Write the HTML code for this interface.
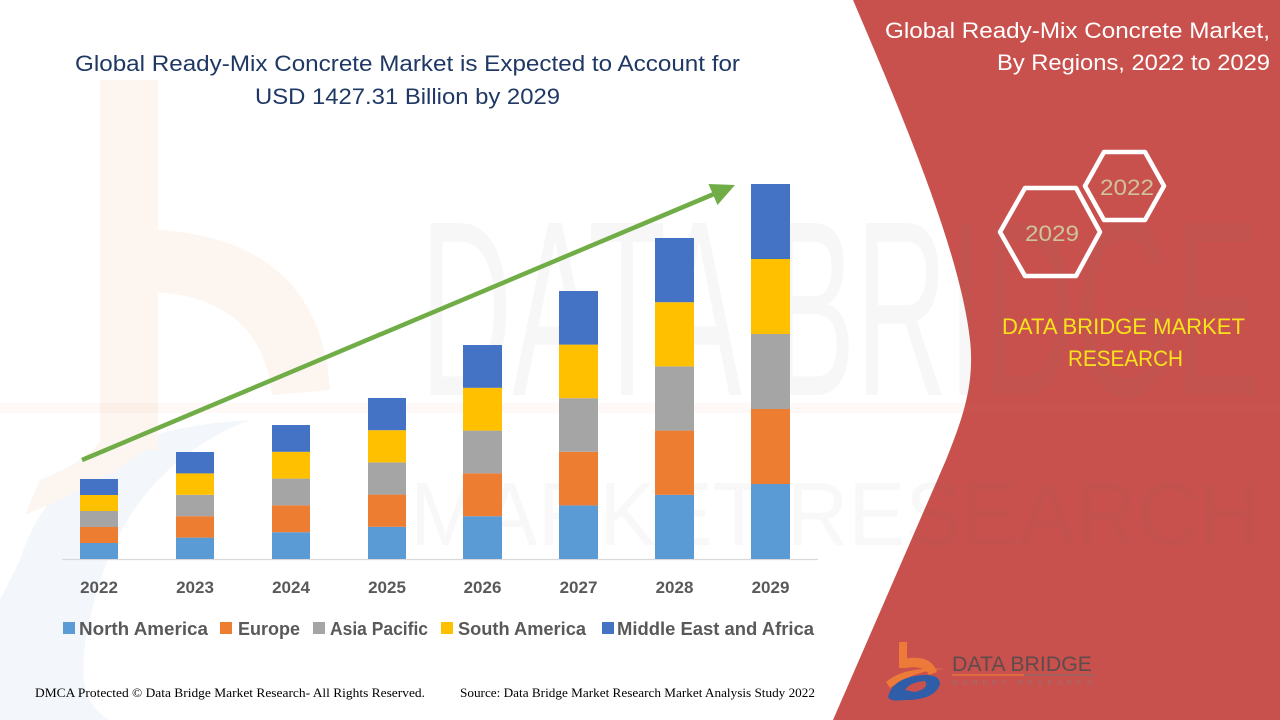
<!DOCTYPE html>
<html><head><meta charset="utf-8"><style>
html,body{margin:0;padding:0;background:#fff;}
svg{display:block;}
</style></head><body>
<svg width="1280" height="720" viewBox="0 0 1280 720" xmlns="http://www.w3.org/2000/svg">
<rect width="1280" height="720" fill="#ffffff"/>
<!-- faint left watermark -->
<path d="M20 560 Q60 430 250 420 Q120 470 90 620 Q70 700 110 720 L0 720 L0 600 Z" fill="#f3f6fb"/>
<rect x="100" y="80" width="58" height="370" fill="#fdf5f0"/>
<path d="M158 230 Q320 240 330 390 L272 395 Q262 300 158 292 Z" fill="#fdf5f0"/>
<path d="M158 440 Q110 480 25 515 L40 480 Q90 460 100 440 Z" fill="#fdf5f0"/>
<!-- red panel -->
<path d="M853 0 C900 110 960 250 970 340 C975 385 962 420 946 460 L833 720 L1280 720 L1280 0 Z" fill="#C8514D"/>
<!-- watermark text -->
<text x="420" y="395" font-family="Liberation Sans, sans-serif" font-size="250" fill="rgba(120,120,120,0.06)" textLength="840" lengthAdjust="spacingAndGlyphs">DATA BRIDGE</text>
<text x="410" y="545" font-family="Liberation Sans, sans-serif" font-size="90" fill="rgba(120,120,120,0.05)" textLength="850" lengthAdjust="spacingAndGlyphs">MARKET RESEARCH</text>
<line x1="0" y1="408" x2="1280" y2="408" stroke="rgba(240,140,90,0.05)" stroke-width="10"/>

<!-- title -->
<text x="75" y="71" font-family="Liberation Sans, sans-serif" font-size="22" fill="#1F3864" textLength="665" lengthAdjust="spacingAndGlyphs">Global Ready-Mix Concrete Market is Expected to Account for</text>
<text x="255" y="104" font-family="Liberation Sans, sans-serif" font-size="22" fill="#1F3864" textLength="305" lengthAdjust="spacingAndGlyphs">USD 1427.31 Billion by 2029</text>

<!-- axis -->
<line x1="62" y1="559.5" x2="818" y2="559.5" stroke="#D9D9D9" stroke-width="1.2"/>

<!-- bars -->
<g>
<rect x="80" y="543" width="38" height="16" fill="#5B9BD5"/>
<rect x="80" y="527" width="38" height="16" fill="#ED7D31"/>
<rect x="80" y="511" width="38" height="16" fill="#A5A5A5"/>
<rect x="80" y="495" width="38" height="16" fill="#FFC000"/>
<rect x="80" y="479" width="38" height="16" fill="#4472C4"/>
<rect x="176" y="537.6" width="38" height="21.4" fill="#5B9BD5"/>
<rect x="176" y="516.2" width="38" height="21.4" fill="#ED7D31"/>
<rect x="176" y="494.8" width="38" height="21.4" fill="#A5A5A5"/>
<rect x="176" y="473.4" width="38" height="21.4" fill="#FFC000"/>
<rect x="176" y="452" width="38" height="21.4" fill="#4472C4"/>
<rect x="272" y="532.2" width="38" height="26.8" fill="#5B9BD5"/>
<rect x="272" y="505.4" width="38" height="26.8" fill="#ED7D31"/>
<rect x="272" y="478.6" width="38" height="26.8" fill="#A5A5A5"/>
<rect x="272" y="451.8" width="38" height="26.8" fill="#FFC000"/>
<rect x="272" y="425" width="38" height="26.8" fill="#4472C4"/>
<rect x="368" y="526.8" width="38" height="32.2" fill="#5B9BD5"/>
<rect x="368" y="494.6" width="38" height="32.2" fill="#ED7D31"/>
<rect x="368" y="462.4" width="38" height="32.2" fill="#A5A5A5"/>
<rect x="368" y="430.2" width="38" height="32.2" fill="#FFC000"/>
<rect x="368" y="398" width="38" height="32.2" fill="#4472C4"/>
<rect x="463" y="516.2" width="39" height="42.8" fill="#5B9BD5"/>
<rect x="463" y="473.4" width="39" height="42.8" fill="#ED7D31"/>
<rect x="463" y="430.6" width="39" height="42.8" fill="#A5A5A5"/>
<rect x="463" y="387.8" width="39" height="42.8" fill="#FFC000"/>
<rect x="463" y="345" width="39" height="42.8" fill="#4472C4"/>
<rect x="559" y="505.4" width="39" height="53.6" fill="#5B9BD5"/>
<rect x="559" y="451.8" width="39" height="53.6" fill="#ED7D31"/>
<rect x="559" y="398.2" width="39" height="53.6" fill="#A5A5A5"/>
<rect x="559" y="344.6" width="39" height="53.6" fill="#FFC000"/>
<rect x="559" y="291" width="39" height="53.6" fill="#4472C4"/>
<rect x="655" y="494.8" width="39" height="64.2" fill="#5B9BD5"/>
<rect x="655" y="430.6" width="39" height="64.2" fill="#ED7D31"/>
<rect x="655" y="366.4" width="39" height="64.2" fill="#A5A5A5"/>
<rect x="655" y="302.2" width="39" height="64.2" fill="#FFC000"/>
<rect x="655" y="238" width="39" height="64.2" fill="#4472C4"/>
<rect x="751" y="484" width="39" height="75" fill="#5B9BD5"/>
<rect x="751" y="409" width="39" height="75" fill="#ED7D31"/>
<rect x="751" y="334" width="39" height="75" fill="#A5A5A5"/>
<rect x="751" y="259" width="39" height="75" fill="#FFC000"/>
<rect x="751" y="184" width="39" height="75" fill="#4472C4"/>
</g>

<!-- arrow -->
<line x1="82" y1="460" x2="714" y2="194" stroke="#70AD47" stroke-width="4.5"/>
<polygon points="735,185 717.5,205 708.5,184" fill="#70AD47"/>

<!-- year labels -->
<g font-family="Liberation Sans, sans-serif" font-size="17" font-weight="bold" fill="#595959" text-anchor="middle">
<text x="99" y="593">2022</text>
<text x="195" y="593">2023</text>
<text x="291" y="593">2024</text>
<text x="387" y="593">2025</text>
<text x="482.5" y="593">2026</text>
<text x="578.5" y="593">2027</text>
<text x="674.5" y="593">2028</text>
<text x="770.5" y="593">2029</text>
</g>

<!-- legend -->
<g font-family="Liberation Sans, sans-serif" font-size="18" font-weight="bold" fill="#595959">
<rect x="63" y="622" width="12" height="12" fill="#5B9BD5"/>
<text x="79" y="635" textLength="129" lengthAdjust="spacingAndGlyphs">North America</text>
<rect x="220" y="622" width="12" height="12" fill="#ED7D31"/>
<text x="238" y="635" textLength="62" lengthAdjust="spacingAndGlyphs">Europe</text>
<rect x="313" y="622" width="12" height="12" fill="#A5A5A5"/>
<text x="330" y="635" textLength="98" lengthAdjust="spacingAndGlyphs">Asia Pacific</text>
<rect x="441" y="622" width="12" height="12" fill="#FFC000"/>
<text x="458" y="635" textLength="128" lengthAdjust="spacingAndGlyphs">South America</text>
<rect x="602" y="622" width="12" height="12" fill="#4472C4"/>
<text x="617" y="635" textLength="197" lengthAdjust="spacingAndGlyphs">Middle East and Africa</text>
</g>

<!-- footer -->
<g font-family="Liberation Serif, serif" font-size="12.5" fill="#000">
<text x="35" y="697" textLength="390" lengthAdjust="spacingAndGlyphs">DMCA Protected © Data Bridge Market Research- All Rights Reserved.</text>
<text x="460" y="697" textLength="355" lengthAdjust="spacingAndGlyphs">Source: Data Bridge Market Research Market Analysis Study 2022</text>
</g>

<!-- right panel text -->
<g font-family="Liberation Sans, sans-serif" font-size="22" fill="#ffffff">
<text x="885" y="38" textLength="385" lengthAdjust="spacingAndGlyphs">Global Ready-Mix Concrete Market,</text>
<text x="997" y="70" textLength="273" lengthAdjust="spacingAndGlyphs">By Regions, 2022 to 2029</text>
</g>

<!-- hexagons -->
<polygon points="1085,186 1104,152 1145,152 1164,186 1145,220 1104,220" fill="none" stroke="#ffffff" stroke-width="4.5" stroke-linejoin="round"/>
<polygon points="1000,232 1025,188 1076,188 1100,232 1076,276 1025,276" fill="none" stroke="#ffffff" stroke-width="4.5" stroke-linejoin="round"/>
<g font-family="Liberation Sans, sans-serif" font-size="22" fill="#CFC39A" text-anchor="middle">
<text x="1127" y="195" textLength="54" lengthAdjust="spacingAndGlyphs">2022</text>
<text x="1052" y="241" textLength="54" lengthAdjust="spacingAndGlyphs">2029</text>
</g>

<g font-family="Liberation Sans, sans-serif" font-size="22" fill="#F7E31B">
<text x="1002" y="334" textLength="243" lengthAdjust="spacingAndGlyphs">DATA BRIDGE MARKET</text>
<text x="1068" y="366" textLength="115" lengthAdjust="spacingAndGlyphs">RESEARCH</text>
</g>

<!-- logo -->
<g>
<rect x="899" y="642" width="8" height="26" fill="#EE7A3A"/>
<path d="M899 660 Q930 652 937 672 L929 675 Q925 665 905 668 Z" fill="#EE7A3A"/>
<path d="M886 682 Q905 666 945 669 Q915 670 890 688 Z" fill="#EE7A3A"/>
<path d="M888 697 Q892 680 915 676 Q940 672 940 684 Q935 700 905 700 Q890 702 888 697 Z M905 690 Q910 682 925 681 Q930 688 915 692 Z" fill="#2F5DA8" fill-rule="evenodd"/>
<text x="952" y="671" font-family="Liberation Sans, sans-serif" font-size="21" fill="#5E4B4B" textLength="140" lengthAdjust="spacingAndGlyphs">DATA BRIDGE</text>
<line x1="952" y1="675" x2="1024" y2="675" stroke="#EE7A3A" stroke-width="1.2"/>
<line x1="1024" y1="675" x2="1094" y2="675" stroke="#8a6a6a" stroke-width="1.2"/>
<text x="952" y="685" font-family="Liberation Sans, sans-serif" font-size="7" fill="#9a7070" textLength="140" lengthAdjust="spacing">MARKET RESEARCH</text>
</g>
</svg>
</body></html>
